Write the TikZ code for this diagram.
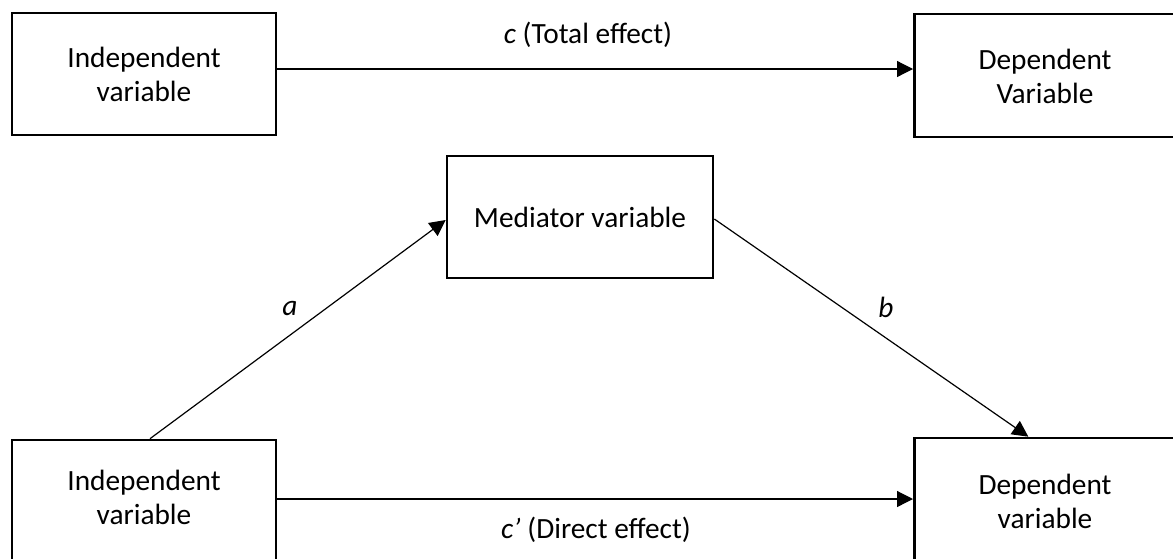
\documentclass[tikz,border=0pt]{standalone}
\usepackage{fontspec}
\setmainfont{Carlito}
\usetikzlibrary{arrows.meta}
\begin{document}
\begin{tikzpicture}[x=0.75pt,y=-0.75pt,
  box/.style={draw, line width=2pt, rectangle, inner sep=0pt, align=center, font=\fontsize{22}{25.5}\selectfont},
  txt/.style={inner sep=0pt, align=center, font=\fontsize{22}{25.5}\selectfont},
  lbl/.style={inner sep=0pt, font=\fontsize{22}{25.5}\selectfont},
  arr/.style={line width=0.9pt, -{Triangle[length=12pt,width=12pt]}}]
\useasboundingbox (0,0) rectangle (1173,558);
\clip (0,0) rectangle (1173,558);
\node[box, minimum width=198pt, minimum height=91.5pt] (tl) at (144,74) {Independent\\variable};
\node[box, minimum width=225pt, minimum height=92.25pt, anchor=west] (tr) at (913,75.5) {};
\node[txt] (trt) at (1045,76) {Dependent\\Variable};
\node[box, minimum width=199.5pt, minimum height=91.5pt] (med) at (580,217) {Mediator variable};
\node[box, minimum width=198pt, minimum height=105pt] (bl) at (144,510) {};
\node[txt] (blt) at (144,497) {Independent\\variable};
\node[box, minimum width=225pt, minimum height=106.5pt, anchor=west] (br) at (913,509) {};
\node[txt] (brt) at (1045,501) {Dependent\\variable};
\draw[arr] ([yshift=3.75pt]tl.east) -- ([yshift=3.75pt]tl.east -| tr.west);
\draw[arr] ([yshift=8.25pt]bl.east) -- ([yshift=8.25pt]bl.east -| br.west);
\draw[arr] ([xshift=4.5pt]bl.north) -- ([yshift=-2.25pt]med.west);
\draw[arr] ([yshift=-1.5pt]med.east) -- ([xshift=-27pt]br.north);
\node[lbl] (lc) at (588,35) {\textit{c} (Total effect)};
\node[lbl] (lcp) at (596,530) {\textit{c’} (Direct effect)};
\node[lbl] (la) at (290,308) {\textit{a}};
\node[lbl] (lb) at (886,307) {\textit{b}};
\end{tikzpicture}
\end{document}
